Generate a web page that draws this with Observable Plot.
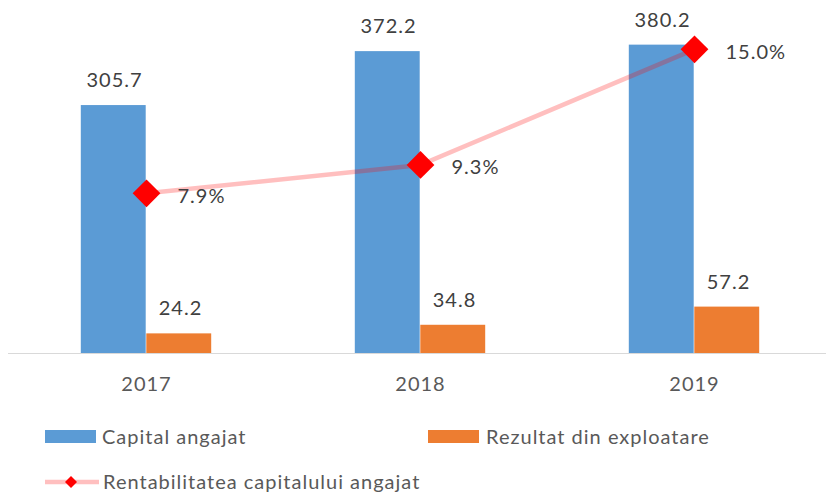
<!DOCTYPE html>
<html>
<head>
<meta charset="utf-8">
<script src="https://cdn.jsdelivr.net/npm/d3@7"></script>
<script src="https://cdn.jsdelivr.net/npm/@observablehq/plot@0.6"></script>
<style>
  html, body { margin: 0; padding: 0; background: #fff; }
  #wrap { width: 826px; position: relative; font-family: Lato, "Open Sans", sans-serif; }
  #legend { position: relative; width: 826px; height: 93px; color: #595959; font-size: 20px; }
  .sw { position: absolute; }
  .lt { position: absolute; white-space: nowrap; letter-spacing: 1px; }
</style>
</head>
<body>
<div id="wrap"></div>
<script>
const years = ["2017", "2018", "2019"];
const capital = [305.7, 372.2, 380.2];
const rezultat = [24.2, 34.8, 57.2];
const rentabilitate = [7.9, 9.3, 15.0];
const seriesNames = ["Capital angajat", "Rezultat din exploatare", "Rentabilitatea capitalului angajat"];

const blue = "#5b9bd5", orange = "#ed7d31";
const pctFactor = 25; // secondary axis: 1% equals 25 units on the primary axis

const capData = years.map((y, i) => ({year: y, value: capital[i]}));
const rezData = years.map((y, i) => ({year: y, value: rezultat[i]}));
const pctData = years.map((y, i) => ({year: y, pct: rentabilitate[i], v: rentabilitate[i] * pctFactor}));

const chart = Plot.plot({
  width: 826,
  height: 400,
  marginTop: 1,
  marginBottom: 47,
  marginLeft: 8,
  marginRight: 0,
  style: {fontFamily: "Lato, 'Open Sans', sans-serif", background: "#fff", letterSpacing: "1px"},
  x: {domain: years, range: [8.4, 832.3], padding: 0, label: null},
  y: {domain: [0, 434], axis: null},
  marks: [
    Plot.axisX({tickSize: 0, tickPadding: 23, fontSize: 20, fill: "#595959", label: null}),
    Plot.ruleY([0], {stroke: "#d9d9d9", strokeWidth: 1}),
    Plot.barY(capData, {x: "year", y: "value", fill: blue, insetLeft: 71.8, insetRight: 137.3}),
    Plot.barY(rezData, {x: "year", y: "value", fill: orange, insetLeft: 137.3, insetRight: 71.8}),
    Plot.text(capData, {x: "year", y: "value", text: d => d.value.toFixed(1), dx: -32, dy: -25, fontSize: 20, fill: "#404040"}),
    Plot.text(rezData, {x: "year", y: "value", text: d => d.value.toFixed(1), dx: 34, dy: -25, fontSize: 20, fill: "#404040"}),
    Plot.line(pctData, {x: "year", y: "v", stroke: "#ff0000", strokeOpacity: 0.25, strokeWidth: 4.5}),
    Plot.dot(pctData, {x: "year", y: "v", symbol: "diamond2", r: 12.5, fill: "#ff0000", stroke: "none"}),
    Plot.text(pctData, {x: "year", y: "v", text: d => d.pct.toFixed(1) + "%", dx: 31, dy: 3, textAnchor: "start", fontSize: 20, fill: "#404040"})
  ]
});

const wrap = document.getElementById("wrap");
wrap.appendChild(chart);

const legend = document.createElement("div");
legend.id = "legend";
legend.innerHTML = `
  <div class="sw" style="left:45px; top:30px; width:51px; height:13px; background:${blue}"></div>
  <div class="lt" style="left:102px; top:24px; line-height:24px;">${seriesNames[0]}</div>
  <div class="sw" style="left:428px; top:30px; width:51px; height:13px; background:${orange}"></div>
  <div class="lt" style="left:486px; top:24px; line-height:24px;">${seriesNames[1]}</div>
  <svg class="sw" style="left:45px; top:73px;" width="56" height="18">
    <line x1="0" y1="9" x2="54" y2="9" stroke="#ff0000" stroke-opacity="0.25" stroke-width="4.5"></line>
    <path d="M26 3 L32 9 L26 15 L20 9 Z" fill="#ff0000"></path>
  </svg>
  <div class="lt" style="left:103px; top:69px; line-height:24px;">${seriesNames[2]}</div>
`;
wrap.appendChild(legend);
</script>
</body>
</html>
